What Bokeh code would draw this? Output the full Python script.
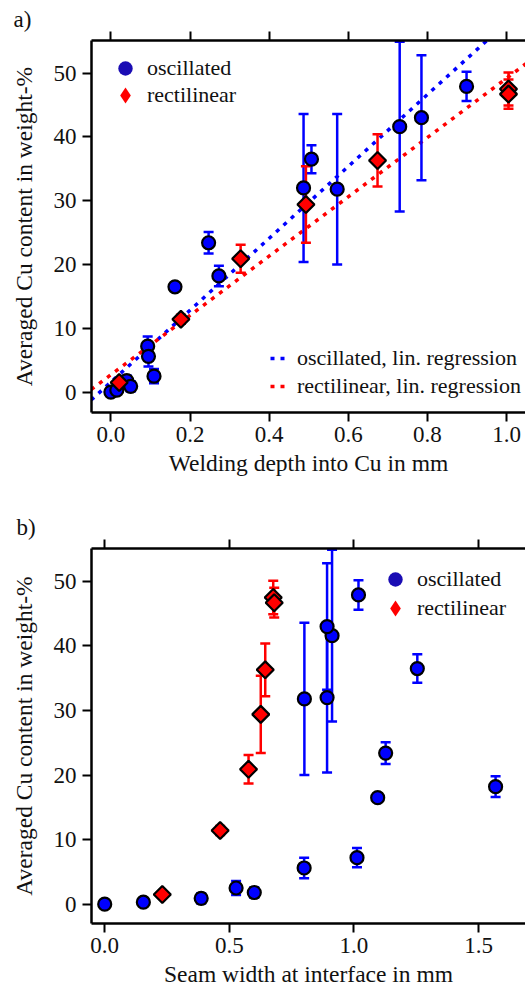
import math
from bokeh.plotting import figure
from bokeh.layouts import column
from bokeh.models import (ColumnDataSource, Whisker, TeeHead, LinearAxis, FixedTicker,
                          PrintfTickFormatter, Legend, LegendItem, Range1d, Title)
from bokeh.embed import file_html
from bokeh.resources import INLINE

# ---------------- data ----------------
osc_depth = [0.000, 0.015, 0.040, 0.050, 0.093, 0.095, 0.109, 0.162, 0.247, 0.273, 0.487, 0.507, 0.572, 0.730, 0.785, 0.899]
osc_width = [0.000, 0.155, 0.600, 0.387, 1.012, 0.800, 0.527, 1.095, 1.127, 1.568, 0.892, 1.254, 0.801, 0.912, 0.892, 1.018]
osc_cu    = [0.0, 0.3, 1.8, 0.9, 7.2, 5.6, 2.5, 16.5, 23.4, 18.2, 32.0, 36.5, 31.8, 41.6, 43.0, 47.9]
osc_err   = [0.1, 0.2, 0.8, 0.8, 1.5, 1.6, 1.1, 0.2, 1.7, 1.6, 11.6, 2.2, 11.8, 13.3, 9.8, 2.3]

rect_depth = [0.021, 0.177, 0.328, 0.493, 0.674, 1.005, 1.005]
rect_width = [0.231, 0.463, 0.577, 0.626, 0.644, 0.676, 0.680]
rect_cu    = [1.5, 11.4, 20.9, 29.4, 36.3, 47.5, 46.7]
rect_err   = [0.3, 0.7, 2.2, 6.0, 4.1, 2.6, 2.3]

# linear regression lines (end points)
osc_fit_x = [-0.05, 0.97]
osc_fit_y = [-1.25, 56.2]
rect_fit_x = [-0.05, 1.05]
rect_fit_y = [0.4, 51.5]

xticks_a = [0.0, 0.2, 0.4, 0.6, 0.8, 1.0]
xticks_b = [0.0, 0.5, 1.0, 1.5]
yticks = [0, 10, 20, 30, 40, 50]

labels = {
    "ylab": "Averaged Cu content in weight-%",
    "xlab_a": "Welding depth into Cu in mm",
    "xlab_b": "Seam width at interface in mm",
    "osc": "oscillated",
    "rect": "rectilinear",
    "osc_fit": "oscillated, lin. regression",
    "rect_fit": "rectilinear, lin. regression",
}

FONT = "Liberation Serif"
TXT = "#111111"
BLUE = "#0000ff"
RED = "#ff0000"
LEG_BLUE = "#1a0cb4"


def style_axis(ax, ticks, fmt=None, labels_on=True):
    ax.ticker = FixedTicker(ticks=ticks)
    if fmt:
        ax.formatter = PrintfTickFormatter(format=fmt)
    ax.axis_line_width = 2.5
    ax.axis_line_color = "black"
    ax.major_tick_in = 0
    ax.major_tick_out = 9
    ax.major_tick_line_width = 2
    ax.minor_tick_line_color = None
    ax.major_label_text_font = FONT
    ax.major_label_text_color = TXT
    ax.axis_label_text_font = FONT
    ax.axis_label_text_font_style = "normal"
    ax.axis_label_text_font_size = "23.5px"
    ax.axis_label_text_color = TXT
    if labels_on:
        ax.major_label_text_font_size = "23px"
    else:
        ax.major_label_text_font_size = "1px"
        ax.major_label_text_color = None
        ax.major_label_standoff = 0


def make_panel(xs_osc, xs_rect, xr, yr, width, height, bl, bt, bb, xticks, xlab, tag, tag_offset):
    p = figure(width=width, height=height, output_backend="svg", toolbar_location=None,
               x_range=Range1d(*xr), y_range=Range1d(*yr),
               min_border_left=bl, min_border_right=0, min_border_top=bt, min_border_bottom=bb,
               x_axis_label=xlab, y_axis_label=labels["ylab"])
    p.outline_line_color = None
    p.grid.visible = False
    p.background_fill_color = "white"
    p.border_fill_color = "white"

    style_axis(p.xaxis[0], xticks, "%.1f")
    style_axis(p.yaxis[0], yticks)
    p.yaxis[0].major_label_standoff = 6
    p.yaxis[0].axis_label_standoff = 14

    top = LinearAxis()
    style_axis(top, xticks, labels_on=False)
    p.add_layout(top, "above")

    t = Title(text=tag, align="left", offset=tag_offset, standoff=0,
              text_font=FONT, text_font_size="23px", text_font_style="normal", text_color=TXT)
    p.add_layout(t, "above")

    osc_src = ColumnDataSource(dict(x=xs_osc, y=osc_cu,
                                    lo=[v - e for v, e in zip(osc_cu, osc_err)],
                                    hi=[v + e for v, e in zip(osc_cu, osc_err)]))
    rect_src = ColumnDataSource(dict(x=xs_rect, y=rect_cu,
                                     lo=[v - e for v, e in zip(rect_cu, rect_err)],
                                     hi=[v + e for v, e in zip(rect_cu, rect_err)]))

    for src, col in ((osc_src, BLUE), (rect_src, RED)):
        w = Whisker(source=src, base="x", upper="hi", lower="lo", dimension="height",
                    line_color=col, line_width=2.5,
                    upper_head=TeeHead(size=10, line_color=col, line_width=2.5),
                    lower_head=TeeHead(size=10, line_color=col, line_width=2.5))
        w.level = "underlay"
        p.add_layout(w)

    p.scatter("x", "y", source=osc_src, marker="circle", size=13, fill_color=BLUE,
              line_color="black", line_width=2.2)
    p.scatter("x", "y", source=rect_src, marker="square", angle=math.pi / 4, size=12,
              fill_color=RED, line_color="black", line_width=2.2)

    # legend proxies (no visible data)
    leg_osc = p.scatter([float("nan")], [float("nan")], marker="circle", fill_color=LEG_BLUE,
                        line_color=None)
    leg_rect = p.scatter([float("nan")], [float("nan")], marker="diamond",
                         fill_color=RED, line_color=None)
    return p, leg_osc, leg_rect


def single_legend(p, label, r, loc, g, standoff):
    leg = Legend(items=[LegendItem(label=label, renderers=[r])],
                 location=loc, glyph_width=g, glyph_height=g, label_height=g, spacing=0,
                 padding=0, margin=0, label_standoff=standoff,
                 label_text_font=FONT, label_text_font_size="22px", label_text_color=TXT,
                 background_fill_alpha=0, border_line_color=None)
    p.add_layout(leg)


# ---------------- panel a ----------------
pa, la1, la2 = make_panel(osc_depth, rect_depth, (-0.049, 1.048), (-3.2, 55.1),
                          525, 495, 91, 40, 83, xticks_a, labels["xlab_a"], "a)", -78)
pa.xaxis[0].major_label_standoff = 6
pa.xaxis[0].axis_label_standoff = 7

r_of = pa.line(osc_fit_x, osc_fit_y, line_color=BLUE, line_width=3.5, line_dash="4 6")
r_rf = pa.line(rect_fit_x, rect_fit_y, line_color=RED, line_width=3.5, line_dash="4 6")
r_of.level = "underlay"
r_rf.level = "underlay"

single_legend(pa, labels["osc"], la1, (16, 326), 36, 4)
single_legend(pa, labels["rect"], la2, (14, 297), 40, 2)

leg2 = Legend(items=[LegendItem(label=labels["osc_fit"], renderers=[r_of]),
                     LegendItem(label=labels["rect_fit"], renderers=[r_rf])],
              location=(179, 12), glyph_width=18, glyph_height=28, label_height=28, spacing=0,
              padding=0, margin=0, label_standoff=9,
              label_text_font=FONT, label_text_font_size="22px", label_text_color=TXT,
              background_fill_alpha=0, border_line_color=None)
pa.add_layout(leg2)

# ---------------- panel b ----------------
pb, lb1, lb2 = make_panel(osc_width, rect_width, (-0.053, 1.688), (-3.0, 55.1),
                          525, 502, 88, 53, 74, xticks_b, labels["xlab_b"], "b)", -75)
pb.xaxis[0].major_label_standoff = 5
pb.xaxis[0].axis_label_standoff = 7
single_legend(pb, labels["osc"], lb1, (286, 326), 36, 4)
single_legend(pb, labels["rect"], lb2, (284, 295), 40, 2)

layout = column(pa, pb, spacing=0)
open("out.html", "w").write(file_html(layout, INLINE))
